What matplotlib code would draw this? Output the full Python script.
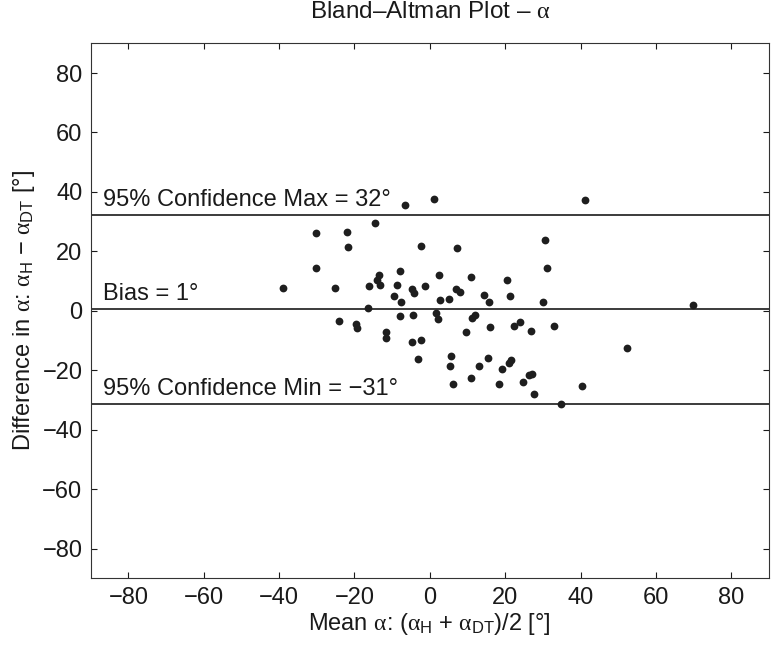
import matplotlib
matplotlib.use("Agg")
import matplotlib.pyplot as plt

plt.rcParams['font.family'] = ['Liberation Sans', 'DejaVu Sans']
plt.rcParams['mathtext.fontset'] = 'custom'
plt.rcParams['mathtext.rm'] = 'Liberation Sans'
plt.rcParams['mathtext.it'] = 'Liberation Serif'
plt.rcParams['mathtext.bf'] = 'Liberation Sans:bold'

mean_vals = [-39.1, -30.1, -30.2, -25.1, -21.9, -21.6, -14.5, -16.2, -16.5, -13.6,
             -14.0, -13.1, -6.5, 1.2, -8.0, -8.6, -9.6, -7.6, -4.8, -4.3,
             -1.2, -2.3, 2.4, 7.2, 6.9, 8.1, 2.8, 5.0, -7.8, -4.6,
             1.7, 2.1, -24.1, -19.6, -19.3, 41.1, 30.5, 31.2, 10.9, 20.6,
             14.4, 15.7, 21.4, 29.9, 11.3, 12.0, 15.9, 22.4, 23.8, 26.8,
             32.9, 9.6, 52.3, 5.7, 5.4, 6.2, 13.1, 15.5, 19.1, 20.9,
             21.6, 10.8, 18.3, 24.6, 26.3, 27.1, 27.7, 34.8, 40.3, -11.6,
             -11.6, -4.8, -2.3, -3.1, 69.8]
diff_vals = [7.7, 26.2, 14.4, 7.7, 26.4, 21.6, 29.4, 8.2, 0.8, 12.2,
             10.3, 8.6, 35.7, 37.5, 13.3, 8.8, 5.1, 2.9, 7.2, 6.0,
             8.2, 21.7, 11.9, 21.1, 7.4, 6.2, 3.7, 3.8, -1.9, -1.3,
             -0.8, -2.9, -3.5, -4.5, -5.7, 37.4, 23.9, 14.5, 11.3, 10.2,
             5.2, 3.1, 5.1, 2.8, -2.4, -1.3, -5.6, -5.1, -3.8, -6.7,
             -5.2, -7.0, -12.5, -15.2, -18.6, -24.5, -18.7, -15.9, -19.5, -17.7,
             -16.4, -22.5, -24.7, -23.8, -21.7, -21.2, -28.1, -31.4, -25.4, -7.1,
             -9.0, -10.6, -9.7, -16.1, 1.9]

conf_max = 32.2
bias = 0.6
conf_min = -31.2
line_labels = ['95% Confidence Max = 32°', 'Bias = 1°', '95% Confidence Min = \u221231°']
ticks = [-80, -60, -40, -20, 0, 20, 40, 60, 80]

fig = plt.figure(figsize=(7.74, 6.47), dpi=100)
ax = fig.add_axes([0.1172, 0.1062, 0.8763, 0.8269])

fs = 17
for yv, lab in zip([conf_max, bias, conf_min], line_labels):
    ax.axhline(yv, color='#1a1a1a', lw=1.2, zorder=2)
    ax.text(-86.7, yv + 3.0, lab, fontsize=fs, color='#1a1a1a', va='baseline', ha='left')

ax.plot(mean_vals, diff_vals, 'o', color='#1e1e1e', markersize=5.6, markeredgewidth=0, zorder=3)

ax.set_xlim(-90, 90)
ax.set_ylim(-90, 90)
ax.set_xticks(ticks)
ax.set_yticks(ticks)
ax.tick_params(direction='in', length=4.5, width=0.8, top=True, right=True,
               labelsize=fs, colors='#1a1a1a', pad=6)
for sp in ax.spines.values():
    sp.set_linewidth(0.8)
    sp.set_color('#333333')

ax.set_title(r'Bland–Altman Plot – $\alpha$', fontsize=17.5, pad=18, color='#1a1a1a')
ax.set_xlabel(r'Mean $\alpha$: ($\alpha_{\rm H}$ + $\alpha_{\rm DT}$)/2 [°]', fontsize=fs, labelpad=2, color='#1a1a1a')
ax.set_ylabel(r'Difference in $\alpha$: $\alpha_{\rm H}$ $-$ $\alpha_{\rm DT}$ [°]', fontsize=fs, labelpad=4, color='#1a1a1a')

fig.savefig('out.png', dpi=100)
